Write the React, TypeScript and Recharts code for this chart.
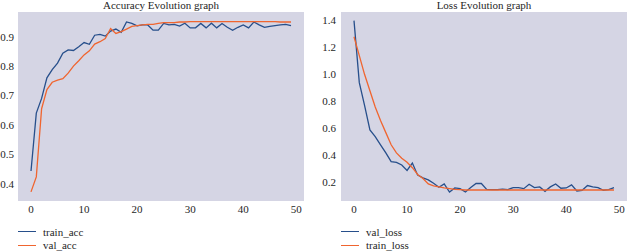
import React from 'react';
import { LineChart, Line, XAxis, YAxis, CartesianGrid } from 'recharts';

// values (epochs 0..49)
const epochs = Array.from({ length: 50 }, (_, i) => i);

const trainAcc = [
  0.443, 0.64, 0.69, 0.76, 0.788, 0.81, 0.844, 0.855, 0.853, 0.866,
  0.88, 0.874, 0.905, 0.908, 0.902, 0.919, 0.926, 0.915, 0.95, 0.945,
  0.937, 0.94, 0.94, 0.922, 0.922, 0.945, 0.94, 0.942, 0.936, 0.946,
  0.93, 0.93, 0.945, 0.93, 0.946, 0.93, 0.945, 0.932, 0.922, 0.932,
  0.94, 0.93, 0.95, 0.94, 0.932, 0.935, 0.938, 0.94, 0.942, 0.938,
];

const valAcc = [
  0.372, 0.423, 0.655, 0.72, 0.745, 0.752, 0.757, 0.776, 0.8, 0.818,
  0.838, 0.852, 0.875, 0.883, 0.894, 0.928, 0.911, 0.917, 0.926, 0.935,
  0.938, 0.94, 0.942, 0.942, 0.945, 0.948, 0.948, 0.948, 0.95, 0.95,
  0.951, 0.951, 0.951, 0.951, 0.951, 0.951, 0.951, 0.951, 0.951, 0.951,
  0.951, 0.951, 0.951, 0.951, 0.951, 0.951, 0.951, 0.95, 0.95, 0.95,
];

const valLoss = [
  1.4, 0.94, 0.77, 0.59, 0.54, 0.48, 0.42, 0.355, 0.35, 0.33,
  0.29, 0.345, 0.255, 0.235, 0.22, 0.195, 0.165, 0.19, 0.13, 0.16,
  0.155, 0.13, 0.163, 0.193, 0.193, 0.15, 0.148, 0.148, 0.152, 0.148,
  0.163, 0.163, 0.155, 0.188, 0.163, 0.168, 0.135, 0.168, 0.19, 0.158,
  0.16, 0.183, 0.138, 0.143, 0.178, 0.168, 0.163, 0.143, 0.148, 0.163,
];

const trainLoss = [
  1.28, 1.14, 1.0, 0.88, 0.76, 0.66, 0.57, 0.48, 0.42, 0.38,
  0.35, 0.31, 0.26, 0.23, 0.19, 0.175, 0.168, 0.16, 0.155, 0.15,
  0.148, 0.145, 0.145, 0.145, 0.145, 0.145, 0.145, 0.145, 0.145, 0.145,
  0.145, 0.145, 0.145, 0.145, 0.145, 0.145, 0.145, 0.145, 0.145, 0.145,
  0.145, 0.145, 0.145, 0.145, 0.145, 0.145, 0.145, 0.145, 0.145, 0.145,
];

const xTicks = [0, 10, 20, 30, 40, 50];
const accTicks = [0.4, 0.5, 0.6, 0.7, 0.8, 0.9];
const lossTicks = [0.2, 0.4, 0.6, 0.8, 1.0, 1.2, 1.4];

const accData = epochs.map((e, i) => ({ epoch: e, train_acc: trainAcc[i], val_acc: valAcc[i] }));
const lossData = epochs.map((e, i) => ({ epoch: e, val_loss: valLoss[i], train_loss: trainLoss[i] }));

const BLUE = '#274f8b';
const ORANGE = '#f0652f';
const BG = '#d5d5e4';
const FONT = '"Liberation Serif", "DejaVu Serif", serif';
const tickStyle = { fontSize: 11, fill: '#262626', fontFamily: FONT };

const Legend = ({ left, items }: { left: number; items: { name: string; color: string }[] }) => (
  <div style={{ position: 'absolute', left, top: 225, fontFamily: FONT, fontSize: 11, color: '#262626' }}>
    {items.map((it) => (
      <div key={it.name} style={{ display: 'flex', alignItems: 'center', height: 13.5 }}>
        <span style={{ display: 'inline-block', width: 18, height: 0, borderTop: `1.5px solid ${it.color}`, marginRight: 7 }} />
        <span>{it.name}</span>
      </div>
    ))}
  </div>
);

const Title = ({ center, text }: { center: number; text: string }) => (
  <div
    style={{
      position: 'absolute', left: center - 100, width: 200, top: -1, lineHeight: '12px', textAlign: 'center',
      fontFamily: FONT, fontSize: 11, color: '#262626', whiteSpace: 'nowrap',
    }}
  >
    {text}
  </div>
);

const App = () => {
  return (
    <div style={{ position: 'absolute', left: 0, top: 0, width: 627, height: 251, background: '#fff', overflow: 'hidden' }}>
      {/* Accuracy panel */}
      <div style={{ position: 'absolute', left: 0, top: 0 }}>
        <LineChart width={312} height={251} data={accData} margin={{ top: 12, right: 8, bottom: 30, left: 0 }}>
          <CartesianGrid fill={BG} stroke="none" horizontal={false} vertical={false} />
          <XAxis
            dataKey="epoch" type="number" domain={[-2.45, 51.45]} ticks={xTicks} allowDataOverflow
            height={20} tickSize={0} tickMargin={4} axisLine={false} tick={tickStyle}
          />
          <YAxis
            type="number" domain={[0.341, 0.984]} ticks={accTicks} allowDataOverflow
            width={18} tickSize={0} tickMargin={4} axisLine={false} tick={tickStyle}
            tickFormatter={(v: number) => v.toFixed(1)}
          />
          <Line dataKey="train_acc" stroke={BLUE} strokeWidth={1.3} dot={false} isAnimationActive={false} />
          <Line dataKey="val_acc" stroke={ORANGE} strokeWidth={1.3} dot={false} isAnimationActive={false} />
        </LineChart>
      </div>
      <Title center={161} text="Accuracy Evolution graph" />
      <Legend left={18} items={[{ name: 'train_acc', color: BLUE }, { name: 'val_acc', color: ORANGE }]} />

      {/* Loss panel */}
      <div style={{ position: 'absolute', left: 315, top: 0 }}>
        <LineChart width={312} height={251} data={lossData} margin={{ top: 12, right: 0, bottom: 30, left: 0 }}>
          <CartesianGrid fill={BG} stroke="none" horizontal={false} vertical={false} />
          <XAxis
            dataKey="epoch" type="number" domain={[-2.45, 51.45]} ticks={xTicks} allowDataOverflow
            height={20} tickSize={0} tickMargin={4} axisLine={false} tick={tickStyle}
          />
          <YAxis
            type="number" domain={[0.0635, 1.4635]} ticks={lossTicks} allowDataOverflow
            width={26} tickSize={0} tickMargin={5} axisLine={false} tick={tickStyle}
            tickFormatter={(v: number) => v.toFixed(1)}
          />
          <Line dataKey="val_loss" stroke={BLUE} strokeWidth={1.3} dot={false} isAnimationActive={false} />
          <Line dataKey="train_loss" stroke={ORANGE} strokeWidth={1.3} dot={false} isAnimationActive={false} />
        </LineChart>
      </div>
      <Title center={484} text="Loss Evolution graph" />
      <Legend left={341} items={[{ name: 'val_loss', color: BLUE }, { name: 'train_loss', color: ORANGE }]} />
    </div>
  );
};

export default App;
